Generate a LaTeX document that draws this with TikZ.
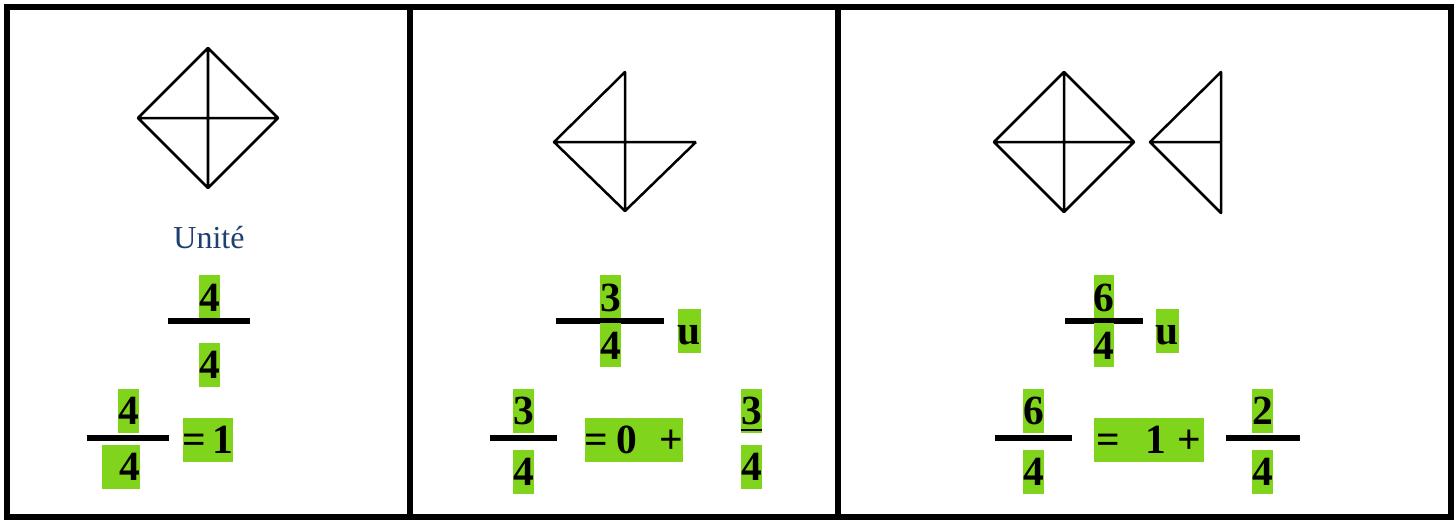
\documentclass[tikz,border=0pt]{standalone}
\usepackage{fontspec}
\setmainfont{Liberation Serif}
\usepackage{xcolor}
\usepackage{tikz}
\definecolor{hlgreen}{RGB}{128,212,28}
\definecolor{unitblue}{RGB}{31,63,111}

\begin{document}
\begin{tikzpicture}[
  x=0.01cm, y=-0.01cm,
  frame/.style={line width=0.06cm},
  piece/.style={line width=0.025cm, line join=round},
  fracbar/.style={line width=0.06cm},
  num/.style={fill=hlgreen, inner sep=0pt, minimum width=0.19cm, minimum height=0.44cm, text height=0.28cm, text depth=0pt, font=\fontsize{11.8}{12}\selectfont\bfseries},
  unitlabel/.style={font=\fontsize{9.1}{10}\selectfont, text=unitblue}
]
  \useasboundingbox (0,0) rectangle (1456,520);
  \draw[frame] (7,7) rectangle (1451,517);
  \draw[frame] (410,7) -- (410,517);
  \draw[frame] (838,7) -- (838,517);

  \draw[piece] (208,48) -- (278,118) -- (208,188) -- (138,118) -- cycle (208,48) -- (208,188) (138,118) -- (278,118);
  \draw[piece] (696,142) -- (625,211) -- (554,142) -- (625,72) -- (625,211) (554,142) -- (696,142);
  \draw[piece] (1064,72) -- (1134,142) -- (1064,212) -- (994,142) -- cycle (1064,72) -- (1064,212) (994,142) -- (1134,142);
  \draw[piece] (1221,72) -- (1150,142) -- (1221,213) -- cycle (1150,142) -- (1221,142);

  \node[unitlabel, anchor=base] (unit) at (209,248) {Unité};

  \node[num] (numA) at (209.5,297) {4};
  \draw[fracbar] (168,321) -- (250,321);
  \node[num] (denA) at (209.5,364.5) {4};
  \node[num] (numB) at (128.5,410.5) {4};
  \draw[fracbar] (87,437.5) -- (169,437.5);
  \node[num] (denB) at (121,466.5) {\hspace*{0.18cm}4};
  \node[num, minimum width=0.5cm] (eqB) at (208,439.5) {=\hspace{0.06cm}1};

  \node[num] (numC) at (610.5,297) {3};
  \draw[fracbar] (556,321) -- (664,321);
  \node[num] (denC) at (610.5,345) {4};
  \node[num] (uC) at (689.5,330.5) {u};
  \node[num] (numD) at (523.5,410.5) {3};
  \draw[fracbar] (490,437.5) -- (557,437.5);
  \node[num] (denD) at (523.5,471.5) {4};
  \node[num, minimum width=0.98cm] (eqD) at (634,439.5) {=\hspace{0.08cm}0\hspace{0.22cm}+};
  \node[num] (numE) at (751.5,410.5) {\underline{3}};
  \node[num] (denE) at (751.5,466.5) {4};

  \node[num] (numF) at (1104,297) {6};
  \draw[fracbar] (1065,321) -- (1143,321);
  \node[num] (denF) at (1104,345) {4};
  \node[num] (uF) at (1167.5,330.5) {u};
  \node[num] (numG) at (1033.5,410.5) {6};
  \draw[fracbar] (995,437.5) -- (1072,437.5);
  \node[num] (denG) at (1033.5,471.5) {4};
  \node[num, minimum width=1.09cm] (eqG) at (1149,439.5) {=\hspace{0.25cm}1\hspace{0.12cm}+};
  \node[num] (numH) at (1262.5,410.5) {2};
  \draw[fracbar] (1226,437.5) -- (1300,437.5);
  \node[num] (denH) at (1262.5,471.5) {4};
\end{tikzpicture}
\end{document}
